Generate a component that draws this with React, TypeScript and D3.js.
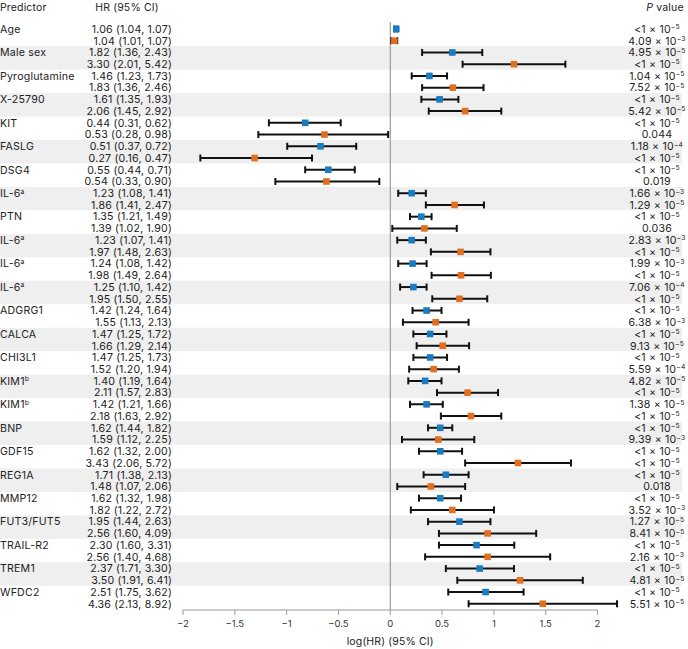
import React from "react";
import * as d3 from "d3";

const predictors = ["Age","Male sex","Pyroglutamine","X-25790","KIT","FASLG","DSG4","IL-6|a","PTN","IL-6|a","IL-6|a","IL-6|a","ADGRG1","CALCA","CHI3L1","KIM1|b","KIM1|b","BNP","GDF15","REG1A","MMP12","FUT3/FUT5","TRAIL-R2","TREM1","WFDC2"];

// series 1 (blue)
const hr1 = [1.06,1.82,1.46,1.61,0.44,0.51,0.55,1.23,1.35,1.23,1.24,1.25,1.42,1.47,1.47,1.40,1.42,1.62,1.62,1.71,1.62,1.95,2.30,2.37,2.51];
const lo1 = [1.04,1.36,1.23,1.35,0.31,0.37,0.44,1.08,1.21,1.07,1.08,1.10,1.24,1.25,1.25,1.19,1.21,1.44,1.32,1.38,1.32,1.44,1.60,1.71,1.75];
const hi1 = [1.07,2.43,1.73,1.93,0.62,0.72,0.71,1.41,1.49,1.41,1.42,1.42,1.64,1.72,1.73,1.64,1.66,1.82,2.00,2.13,1.98,2.63,3.31,3.30,3.62];
const p1 = ["<1e-5","4.95e-5","1.04e-5","<1e-5","<1e-5","1.18e-4","<1e-5","1.66e-3","<1e-5","2.83e-3","1.99e-3","7.06e-4","<1e-5","<1e-5","<1e-5","4.82e-5","1.38e-5","<1e-5","<1e-5","<1e-5","<1e-5","1.27e-5","<1e-5","<1e-5","<1e-5"];

// series 2 (orange)
const hr2 = [1.04,3.30,1.83,2.06,0.53,0.27,0.54,1.86,1.39,1.97,1.98,1.95,1.55,1.66,1.52,2.11,2.18,1.59,3.43,1.48,1.82,2.56,2.56,3.50,4.36];
const lo2 = [1.01,2.01,1.36,1.45,0.28,0.16,0.33,1.41,1.02,1.48,1.49,1.50,1.13,1.29,1.20,1.57,1.63,1.12,2.06,1.07,1.22,1.60,1.40,1.91,2.13];
const hi2 = [1.07,5.42,2.46,2.92,0.98,0.47,0.90,2.47,1.90,2.63,2.64,2.55,2.13,2.14,1.94,2.83,2.92,2.25,5.72,2.06,2.72,4.09,4.68,6.41,8.92];
const p2 = ["4.09e-3","<1e-5","7.52e-5","5.42e-5","0.044","<1e-5","0.019","1.29e-5","0.036","<1e-5","<1e-5","<1e-5","6.38e-3","9.13e-5","5.59e-4","<1e-5","<1e-5","9.39e-3","<1e-5","0.018","3.52e-3","8.41e-5","2.16e-3","4.81e-5","5.51e-5"];

const xTicks = [-2,-1.5,-1,-0.5,0,0.5,1,1.5,2];

const BLUE = "#1b7bc0";
const ORANGE = "#e0701f";
const FONT = "Inter, 'Noto Sans', sans-serif";

function fmt2(v: number) { return v.toFixed(2); }

function PVal({ s, x, y }: { s: string; x: number; y: number }) {
  if (!s.includes("e")) {
    return <text x={x} y={y} textAnchor="middle">{s}</text>;
  }
  const lt = s.startsWith("<");
  const body = lt ? s.slice(1) : s;
  const [m, e] = body.split("e");
  const exp = e.replace("-", "\u2212");
  return (
    <text x={x} y={y} textAnchor="middle">
      {lt ? "<" : ""}{m} × 10<tspan dy={-3.5} fontSize={6.8}>{exp}</tspan>
    </text>
  );
}

function Name({ s, x, y }: { s: string; x: number; y: number }) {
  const [n, sup] = s.split("|");
  return (
    <text x={x} y={y}>
      {n}{sup ? <tspan dy={-3.5} fontSize={6.8}>{sup}</tspan> : null}
    </text>
  );
}

export default function App() {
  const W = 688, H = 649;
  const x = d3.scaleLinear().domain([-2, 2]).range([183, 597.5]);
  const y0 = 29, step = 11.73;
  const yLine = (i: number) => y0 + i * step;
  const axisY = 610;

  return (
    <svg width={W} height={H} style={{ position: "absolute", left: 0, top: 0, fontFamily: FONT }}>
      <rect width={W} height={H} fill="#fff" />
      {predictors.map((_, k) => k % 2 === 1 ? (
        <rect key={"bg" + k} x={0} y={yLine(2 * k) - 6.3} width={682} height={step * 2} fill="#efefef" />
      ) : null)}
      {/* headers */}
      <g fontSize={10.5} fill="#222" letterSpacing={0.15}>
        <text x={0} y={11}>Predictor</text>
        <text x={127} y={11} textAnchor="middle">HR (95% CI)</text>
        <text x={665} y={11} textAnchor="middle"><tspan fontStyle="italic">P</tspan> value</text>
      </g>
      {/* zero line */}
      <line x1={x(0)} x2={x(0)} y1={22} y2={axisY} stroke="#888" strokeWidth={1} />
      {/* rows */}
      <g fontSize={10.6} fill="#222" letterSpacing={0.2}>
        {predictors.map((p, k) => {
          const ya = yLine(2 * k), yb = yLine(2 * k + 1);
          return (
            <g key={"r" + k}>
              <Name s={p} x={0} y={ya + 3.8} />
              <text x={172} y={ya + 3.8} textAnchor="end">{`${fmt2(hr1[k])} (${fmt2(lo1[k])}, ${fmt2(hi1[k])})`}</text>
              <text x={172} y={yb + 3.8} textAnchor="end">{`${fmt2(hr2[k])} (${fmt2(lo2[k])}, ${fmt2(hi2[k])})`}</text>
              <PVal s={p1[k]} x={657} y={ya + 3.8} />
              <PVal s={p2[k]} x={657} y={yb + 3.8} />
            </g>
          );
        })}
      </g>
      {/* marks */}
      {predictors.map((_, k) => {
        const rows = [
          { hr: hr1[k], lo: lo1[k], hi: hi1[k], c: BLUE, yy: yLine(2 * k) },
          { hr: hr2[k], lo: lo2[k], hi: hi2[k], c: ORANGE, yy: yLine(2 * k + 1) },
        ];
        return rows.map((r, j) => {
          const xl = x(Math.log(r.lo)), xh = x(Math.log(r.hi)), xm = x(Math.log(r.hr));
          return (
            <g key={"m" + k + "-" + j}>
              <line x1={xl} x2={xh} y1={r.yy} y2={r.yy} stroke="#111" strokeWidth={2} />
              <line x1={xl} x2={xl} y1={r.yy - 3.5} y2={r.yy + 3.5} stroke="#111" strokeWidth={2} />
              <line x1={xh} x2={xh} y1={r.yy - 3.5} y2={r.yy + 3.5} stroke="#111" strokeWidth={2} />
              <rect x={xm - 3.3} y={r.yy - 3.3} width={6.6} height={6.6} fill={r.c} />
            </g>
          );
        });
      })}
      {/* axis */}
      <line x1={x(-2)} x2={x(2)} y1={axisY} y2={axisY} stroke="#999" strokeWidth={1} />
      {xTicks.map(t => (
        <g key={"t" + t}>
          <line x1={x(t)} x2={x(t)} y1={axisY} y2={axisY + 5} stroke="#999" strokeWidth={1} />
          <text x={x(t)} y={axisY + 17} textAnchor="middle" fontSize={9.5} fill="#333">
            {t < 0 ? "\u2212" + Math.abs(t) : String(t)}
          </text>
        </g>
      ))}
      <text x={x(0)} y={645} textAnchor="middle" fontSize={10.5} fill="#222" letterSpacing={0.15}>log(HR) (95% CI)</text>
    </svg>
  );
}
